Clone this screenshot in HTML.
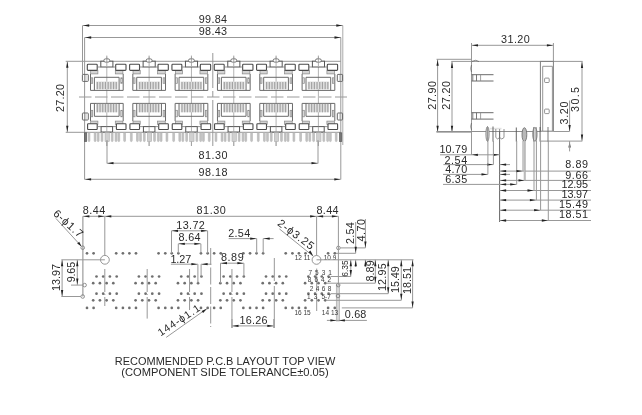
<!DOCTYPE html>
<html><head><meta charset="utf-8"><style>
html,body{margin:0;padding:0;background:#fff;}
svg{display:block;will-change:transform;}
</style></head><body>
<svg width="642" height="415" viewBox="0 0 642 415" shape-rendering="auto">
<rect x="0" y="0" width="642" height="415" fill="#fff"/>
<line x1="82.50" y1="25.50" x2="82.50" y2="74.40" stroke="#989898" stroke-width="1.0" />
<line x1="84.60" y1="37.50" x2="84.60" y2="179.50" stroke="#989898" stroke-width="1.0" />
<line x1="342.80" y1="25.50" x2="342.80" y2="145.00" stroke="#aaa" stroke-width="1.0" />
<line x1="340.80" y1="37.50" x2="340.80" y2="179.50" stroke="#999" stroke-width="1.0" />
<line x1="82.70" y1="25.50" x2="342.80" y2="25.50" stroke="#989898" stroke-width="1.0" />
<line x1="84.70" y1="37.50" x2="341.00" y2="37.50" stroke="#989898" stroke-width="1.0" />
<polygon points="83.20,25.50 89.20,24.35 89.20,26.65" fill="#222"/>
<polygon points="342.30,25.50 336.30,24.35 336.30,26.65" fill="#222"/>
<polygon points="85.20,37.50 91.20,36.35 91.20,38.65" fill="#222"/>
<polygon points="340.50,37.50 334.50,36.35 334.50,38.65" fill="#222"/>
<text x="198.71" y="22.80" font-family="Liberation Sans" font-size="10.80" fill="#2a2a2a" textLength="28.37" lengthAdjust="spacing">99.84</text>
<text x="198.71" y="35.40" font-family="Liberation Sans" font-size="10.80" fill="#2a2a2a" textLength="28.37" lengthAdjust="spacing">98.43</text>
<line x1="65.70" y1="61.30" x2="341.00" y2="61.30" stroke="#989898" stroke-width="1.0" />
<line x1="65.70" y1="132.30" x2="340.80" y2="132.30" stroke="#989898" stroke-width="1.0" />
<line x1="67.30" y1="61.30" x2="67.30" y2="132.30" stroke="#989898" stroke-width="1.0" />
<polygon points="67.30,61.80 66.15,67.80 68.45,67.80" fill="#222"/>
<polygon points="67.30,131.80 66.15,125.80 68.45,125.80" fill="#222"/>
<text transform="translate(64.00,111.99) rotate(-90)" x="0" y="0" font-family="Liberation Sans" font-size="10.80" fill="#2a2a2a" textLength="28.07" lengthAdjust="spacing">27.20</text>
<line x1="79" y1="97" x2="347" y2="97" stroke="#9a9a9a" stroke-width="1" stroke-dasharray="12.5,3.5"/>
<line x1="212.8" y1="53" x2="212.8" y2="146" stroke="#989898" stroke-width="1" stroke-dasharray="35,3,6,3,60"/>
<rect x="82.40" y="74.40" width="5.90" height="7.00" rx="0.7" fill="none" stroke="#666" stroke-width="1.0"/>
<line x1="85.90" y1="74.40" x2="85.90" y2="81.40" stroke="#999" stroke-width="0.7" />
<rect x="337.30" y="74.40" width="5.30" height="7.00" rx="0.7" fill="none" stroke="#666" stroke-width="1.0"/>
<line x1="339.90" y1="74.40" x2="339.90" y2="81.40" stroke="#999" stroke-width="0.7" />
<rect x="82.40" y="113.00" width="5.90" height="7.00" rx="0.7" fill="none" stroke="#666" stroke-width="1.0"/>
<line x1="85.90" y1="113.00" x2="85.90" y2="120.00" stroke="#999" stroke-width="0.7" />
<rect x="337.30" y="113.00" width="5.30" height="7.00" rx="0.7" fill="none" stroke="#666" stroke-width="1.0"/>
<line x1="339.90" y1="113.00" x2="339.90" y2="120.00" stroke="#999" stroke-width="0.7" />
<line x1="106.80" y1="55.50" x2="106.80" y2="98.00" stroke="#a0a0a0" stroke-width="0.8" />
<rect x="90.70" y="70.40" width="7.20" height="3.50" rx="0" fill="#d4d4d4" stroke="#888" stroke-width="0.7"/>
<rect x="115.30" y="70.40" width="7.60" height="3.50" rx="0" fill="#d4d4d4" stroke="#888" stroke-width="0.7"/>
<rect x="100.80" y="61.20" width="12.10" height="5.80" rx="0" fill="#fff" stroke="#555" stroke-width="1.0"/>
<rect x="103.90" y="58.90" width="5.80" height="3.20" rx="1.5" fill="#fff" stroke="#666" stroke-width="0.9"/>
<line x1="106.80" y1="56.50" x2="106.80" y2="66.00" stroke="#999" stroke-width="0.8" />
<rect x="87.30" y="64.30" width="9.90" height="6.10" rx="0.8" fill="#fff" stroke="#4a4a4a" stroke-width="1.1"/>
<rect x="115.70" y="64.30" width="10.30" height="6.10" rx="0.8" fill="#fff" stroke="#4a4a4a" stroke-width="1.1"/>
<line x1="97.20" y1="67.00" x2="100.80" y2="67.00" stroke="#777" stroke-width="0.8" />
<line x1="112.90" y1="67.00" x2="115.70" y2="67.00" stroke="#777" stroke-width="0.8" />
<polyline points="90.50,73.9 90.50,90.4 123.20,90.4 123.20,73.9" fill="none" stroke="#6a6a6a" stroke-width="1"/>
<rect x="96.00" y="81.5" width="21.6" height="7.9" fill="#e0e0e0"/>
<polyline points="94.40,90.4 94.40,77.3 119.10,77.3 119.10,90.4" fill="none" stroke="#6a6a6a" stroke-width="1"/>
<line x1="97.35" y1="81.90" x2="97.35" y2="89.20" stroke="#a2a2a2" stroke-width="1.2" />
<line x1="100.05" y1="81.90" x2="100.05" y2="89.20" stroke="#a2a2a2" stroke-width="1.2" />
<line x1="102.75" y1="81.90" x2="102.75" y2="89.20" stroke="#a2a2a2" stroke-width="1.2" />
<line x1="105.45" y1="81.90" x2="105.45" y2="89.20" stroke="#a2a2a2" stroke-width="1.2" />
<line x1="108.15" y1="81.90" x2="108.15" y2="89.20" stroke="#a2a2a2" stroke-width="1.2" />
<line x1="110.85" y1="81.90" x2="110.85" y2="89.20" stroke="#a2a2a2" stroke-width="1.2" />
<line x1="113.55" y1="81.90" x2="113.55" y2="89.20" stroke="#a2a2a2" stroke-width="1.2" />
<line x1="116.25" y1="81.90" x2="116.25" y2="89.20" stroke="#a2a2a2" stroke-width="1.2" />
<rect x="91.00" y="77.80" width="1.70" height="5.50" rx="0" fill="#ddd" stroke="#888" stroke-width="0.7"/>
<rect x="120.80" y="77.80" width="1.70" height="5.50" rx="0" fill="#ddd" stroke="#888" stroke-width="0.7"/>
<line x1="106.80" y1="98.00" x2="106.80" y2="146.00" stroke="#a0a0a0" stroke-width="0.8" />
<polyline points="90.50,121.1 90.50,103.4 123.20,103.4 123.20,121.1" fill="none" stroke="#6a6a6a" stroke-width="1"/>
<rect x="96.00" y="103.9" width="21.6" height="8.4" fill="#e0e0e0"/>
<polyline points="94.40,103.4 94.40,116.3 119.10,116.3 119.10,103.4" fill="none" stroke="#6a6a6a" stroke-width="1"/>
<line x1="97.35" y1="103.90" x2="97.35" y2="112.30" stroke="#a2a2a2" stroke-width="1.2" />
<line x1="100.05" y1="103.90" x2="100.05" y2="112.30" stroke="#a2a2a2" stroke-width="1.2" />
<line x1="102.75" y1="103.90" x2="102.75" y2="112.30" stroke="#a2a2a2" stroke-width="1.2" />
<line x1="105.45" y1="103.90" x2="105.45" y2="112.30" stroke="#a2a2a2" stroke-width="1.2" />
<line x1="108.15" y1="103.90" x2="108.15" y2="112.30" stroke="#a2a2a2" stroke-width="1.2" />
<line x1="110.85" y1="103.90" x2="110.85" y2="112.30" stroke="#a2a2a2" stroke-width="1.2" />
<line x1="113.55" y1="103.90" x2="113.55" y2="112.30" stroke="#a2a2a2" stroke-width="1.2" />
<line x1="116.25" y1="103.90" x2="116.25" y2="112.30" stroke="#a2a2a2" stroke-width="1.2" />
<rect x="91.00" y="110.30" width="1.70" height="6.50" rx="0" fill="#ddd" stroke="#888" stroke-width="0.7"/>
<rect x="120.80" y="110.30" width="1.70" height="6.50" rx="0" fill="#ddd" stroke="#888" stroke-width="0.7"/>
<rect x="90.70" y="121.10" width="7.20" height="3.20" rx="0" fill="#d4d4d4" stroke="#888" stroke-width="0.7"/>
<rect x="115.30" y="121.10" width="7.60" height="3.20" rx="0" fill="#d4d4d4" stroke="#888" stroke-width="0.7"/>
<rect x="87.60" y="123.80" width="9.60" height="5.70" rx="0.6" fill="#fff" stroke="#4a4a4a" stroke-width="1.1"/>
<rect x="116.40" y="123.80" width="9.60" height="5.70" rx="0.6" fill="#fff" stroke="#4a4a4a" stroke-width="1.1"/>
<line x1="97.20" y1="126.60" x2="101.10" y2="126.60" stroke="#777" stroke-width="0.8" />
<line x1="112.60" y1="126.60" x2="116.40" y2="126.60" stroke="#777" stroke-width="0.8" />
<rect x="101.10" y="126.60" width="11.50" height="5.40" rx="0" fill="#fff" stroke="#555" stroke-width="1.0"/>
<line x1="106.80" y1="126.60" x2="106.80" y2="146.00" stroke="#a0a0a0" stroke-width="0.8" />
<rect x="88.10" y="132.6" width="1.8" height="9.0" rx="0.8" fill="#c4c4c4" stroke="#a8a8a8" stroke-width="0.5"/>
<rect x="94.20" y="132.6" width="1.8" height="9.0" rx="0.8" fill="#c4c4c4" stroke="#a8a8a8" stroke-width="0.5"/>
<rect x="97.30" y="132.6" width="1.8" height="9.0" rx="0.8" fill="#c4c4c4" stroke="#a8a8a8" stroke-width="0.5"/>
<rect x="101.10" y="132.6" width="1.8" height="9.0" rx="0.8" fill="#c4c4c4" stroke="#a8a8a8" stroke-width="0.5"/>
<rect x="111.30" y="132.6" width="1.8" height="9.0" rx="0.8" fill="#c4c4c4" stroke="#a8a8a8" stroke-width="0.5"/>
<rect x="115.10" y="132.6" width="1.8" height="9.0" rx="0.8" fill="#c4c4c4" stroke="#a8a8a8" stroke-width="0.5"/>
<rect x="117.90" y="132.6" width="1.8" height="9.0" rx="0.8" fill="#c4c4c4" stroke="#a8a8a8" stroke-width="0.5"/>
<rect x="123.70" y="132.6" width="1.8" height="9.0" rx="0.8" fill="#c4c4c4" stroke="#a8a8a8" stroke-width="0.5"/>
<rect x="105.00" y="132.6" width="4.4" height="9.0" fill="#d0d0d0" stroke="#a8a8a8" stroke-width="0.5"/>
<line x1="149.12" y1="55.50" x2="149.12" y2="98.00" stroke="#a0a0a0" stroke-width="0.8" />
<rect x="133.02" y="70.40" width="7.20" height="3.50" rx="0" fill="#d4d4d4" stroke="#888" stroke-width="0.7"/>
<rect x="157.62" y="70.40" width="7.60" height="3.50" rx="0" fill="#d4d4d4" stroke="#888" stroke-width="0.7"/>
<rect x="143.12" y="61.20" width="12.10" height="5.80" rx="0" fill="#fff" stroke="#555" stroke-width="1.0"/>
<rect x="146.22" y="58.90" width="5.80" height="3.20" rx="1.5" fill="#fff" stroke="#666" stroke-width="0.9"/>
<line x1="149.12" y1="56.50" x2="149.12" y2="66.00" stroke="#999" stroke-width="0.8" />
<rect x="129.62" y="64.30" width="9.90" height="6.10" rx="0.8" fill="#fff" stroke="#4a4a4a" stroke-width="1.1"/>
<rect x="158.02" y="64.30" width="10.30" height="6.10" rx="0.8" fill="#fff" stroke="#4a4a4a" stroke-width="1.1"/>
<line x1="139.52" y1="67.00" x2="143.12" y2="67.00" stroke="#777" stroke-width="0.8" />
<line x1="155.22" y1="67.00" x2="158.02" y2="67.00" stroke="#777" stroke-width="0.8" />
<polyline points="132.82,73.9 132.82,90.4 165.52,90.4 165.52,73.9" fill="none" stroke="#6a6a6a" stroke-width="1"/>
<rect x="138.32" y="81.5" width="21.6" height="7.9" fill="#e0e0e0"/>
<polyline points="136.72,90.4 136.72,77.3 161.42,77.3 161.42,90.4" fill="none" stroke="#6a6a6a" stroke-width="1"/>
<line x1="139.67" y1="81.90" x2="139.67" y2="89.20" stroke="#a2a2a2" stroke-width="1.2" />
<line x1="142.37" y1="81.90" x2="142.37" y2="89.20" stroke="#a2a2a2" stroke-width="1.2" />
<line x1="145.07" y1="81.90" x2="145.07" y2="89.20" stroke="#a2a2a2" stroke-width="1.2" />
<line x1="147.77" y1="81.90" x2="147.77" y2="89.20" stroke="#a2a2a2" stroke-width="1.2" />
<line x1="150.47" y1="81.90" x2="150.47" y2="89.20" stroke="#a2a2a2" stroke-width="1.2" />
<line x1="153.17" y1="81.90" x2="153.17" y2="89.20" stroke="#a2a2a2" stroke-width="1.2" />
<line x1="155.87" y1="81.90" x2="155.87" y2="89.20" stroke="#a2a2a2" stroke-width="1.2" />
<line x1="158.57" y1="81.90" x2="158.57" y2="89.20" stroke="#a2a2a2" stroke-width="1.2" />
<rect x="133.32" y="77.80" width="1.70" height="5.50" rx="0" fill="#ddd" stroke="#888" stroke-width="0.7"/>
<rect x="163.12" y="77.80" width="1.70" height="5.50" rx="0" fill="#ddd" stroke="#888" stroke-width="0.7"/>
<line x1="149.12" y1="98.00" x2="149.12" y2="146.00" stroke="#a0a0a0" stroke-width="0.8" />
<polyline points="132.82,121.1 132.82,103.4 165.52,103.4 165.52,121.1" fill="none" stroke="#6a6a6a" stroke-width="1"/>
<rect x="138.32" y="103.9" width="21.6" height="8.4" fill="#e0e0e0"/>
<polyline points="136.72,103.4 136.72,116.3 161.42,116.3 161.42,103.4" fill="none" stroke="#6a6a6a" stroke-width="1"/>
<line x1="139.67" y1="103.90" x2="139.67" y2="112.30" stroke="#a2a2a2" stroke-width="1.2" />
<line x1="142.37" y1="103.90" x2="142.37" y2="112.30" stroke="#a2a2a2" stroke-width="1.2" />
<line x1="145.07" y1="103.90" x2="145.07" y2="112.30" stroke="#a2a2a2" stroke-width="1.2" />
<line x1="147.77" y1="103.90" x2="147.77" y2="112.30" stroke="#a2a2a2" stroke-width="1.2" />
<line x1="150.47" y1="103.90" x2="150.47" y2="112.30" stroke="#a2a2a2" stroke-width="1.2" />
<line x1="153.17" y1="103.90" x2="153.17" y2="112.30" stroke="#a2a2a2" stroke-width="1.2" />
<line x1="155.87" y1="103.90" x2="155.87" y2="112.30" stroke="#a2a2a2" stroke-width="1.2" />
<line x1="158.57" y1="103.90" x2="158.57" y2="112.30" stroke="#a2a2a2" stroke-width="1.2" />
<rect x="133.32" y="110.30" width="1.70" height="6.50" rx="0" fill="#ddd" stroke="#888" stroke-width="0.7"/>
<rect x="163.12" y="110.30" width="1.70" height="6.50" rx="0" fill="#ddd" stroke="#888" stroke-width="0.7"/>
<rect x="133.02" y="121.10" width="7.20" height="3.20" rx="0" fill="#d4d4d4" stroke="#888" stroke-width="0.7"/>
<rect x="157.62" y="121.10" width="7.60" height="3.20" rx="0" fill="#d4d4d4" stroke="#888" stroke-width="0.7"/>
<rect x="129.92" y="123.80" width="9.60" height="5.70" rx="0.6" fill="#fff" stroke="#4a4a4a" stroke-width="1.1"/>
<rect x="158.72" y="123.80" width="9.60" height="5.70" rx="0.6" fill="#fff" stroke="#4a4a4a" stroke-width="1.1"/>
<line x1="139.52" y1="126.60" x2="143.42" y2="126.60" stroke="#777" stroke-width="0.8" />
<line x1="154.92" y1="126.60" x2="158.72" y2="126.60" stroke="#777" stroke-width="0.8" />
<rect x="143.42" y="126.60" width="11.50" height="5.40" rx="0" fill="#fff" stroke="#555" stroke-width="1.0"/>
<line x1="149.12" y1="126.60" x2="149.12" y2="146.00" stroke="#a0a0a0" stroke-width="0.8" />
<rect x="130.42" y="132.6" width="1.8" height="9.0" rx="0.8" fill="#c4c4c4" stroke="#a8a8a8" stroke-width="0.5"/>
<rect x="136.52" y="132.6" width="1.8" height="9.0" rx="0.8" fill="#c4c4c4" stroke="#a8a8a8" stroke-width="0.5"/>
<rect x="139.62" y="132.6" width="1.8" height="9.0" rx="0.8" fill="#c4c4c4" stroke="#a8a8a8" stroke-width="0.5"/>
<rect x="143.42" y="132.6" width="1.8" height="9.0" rx="0.8" fill="#c4c4c4" stroke="#a8a8a8" stroke-width="0.5"/>
<rect x="153.62" y="132.6" width="1.8" height="9.0" rx="0.8" fill="#c4c4c4" stroke="#a8a8a8" stroke-width="0.5"/>
<rect x="157.42" y="132.6" width="1.8" height="9.0" rx="0.8" fill="#c4c4c4" stroke="#a8a8a8" stroke-width="0.5"/>
<rect x="160.22" y="132.6" width="1.8" height="9.0" rx="0.8" fill="#c4c4c4" stroke="#a8a8a8" stroke-width="0.5"/>
<rect x="166.02" y="132.6" width="1.8" height="9.0" rx="0.8" fill="#c4c4c4" stroke="#a8a8a8" stroke-width="0.5"/>
<rect x="147.32" y="132.6" width="4.4" height="9.0" fill="#d0d0d0" stroke="#a8a8a8" stroke-width="0.5"/>
<line x1="191.44" y1="55.50" x2="191.44" y2="98.00" stroke="#a0a0a0" stroke-width="0.8" />
<rect x="175.34" y="70.40" width="7.20" height="3.50" rx="0" fill="#d4d4d4" stroke="#888" stroke-width="0.7"/>
<rect x="199.94" y="70.40" width="7.60" height="3.50" rx="0" fill="#d4d4d4" stroke="#888" stroke-width="0.7"/>
<rect x="185.44" y="61.20" width="12.10" height="5.80" rx="0" fill="#fff" stroke="#555" stroke-width="1.0"/>
<rect x="188.54" y="58.90" width="5.80" height="3.20" rx="1.5" fill="#fff" stroke="#666" stroke-width="0.9"/>
<line x1="191.44" y1="56.50" x2="191.44" y2="66.00" stroke="#999" stroke-width="0.8" />
<rect x="171.94" y="64.30" width="9.90" height="6.10" rx="0.8" fill="#fff" stroke="#4a4a4a" stroke-width="1.1"/>
<rect x="200.34" y="64.30" width="10.30" height="6.10" rx="0.8" fill="#fff" stroke="#4a4a4a" stroke-width="1.1"/>
<line x1="181.84" y1="67.00" x2="185.44" y2="67.00" stroke="#777" stroke-width="0.8" />
<line x1="197.54" y1="67.00" x2="200.34" y2="67.00" stroke="#777" stroke-width="0.8" />
<polyline points="175.14,73.9 175.14,90.4 207.84,90.4 207.84,73.9" fill="none" stroke="#6a6a6a" stroke-width="1"/>
<rect x="180.64" y="81.5" width="21.6" height="7.9" fill="#e0e0e0"/>
<polyline points="179.04,90.4 179.04,77.3 203.74,77.3 203.74,90.4" fill="none" stroke="#6a6a6a" stroke-width="1"/>
<line x1="181.99" y1="81.90" x2="181.99" y2="89.20" stroke="#a2a2a2" stroke-width="1.2" />
<line x1="184.69" y1="81.90" x2="184.69" y2="89.20" stroke="#a2a2a2" stroke-width="1.2" />
<line x1="187.39" y1="81.90" x2="187.39" y2="89.20" stroke="#a2a2a2" stroke-width="1.2" />
<line x1="190.09" y1="81.90" x2="190.09" y2="89.20" stroke="#a2a2a2" stroke-width="1.2" />
<line x1="192.79" y1="81.90" x2="192.79" y2="89.20" stroke="#a2a2a2" stroke-width="1.2" />
<line x1="195.49" y1="81.90" x2="195.49" y2="89.20" stroke="#a2a2a2" stroke-width="1.2" />
<line x1="198.19" y1="81.90" x2="198.19" y2="89.20" stroke="#a2a2a2" stroke-width="1.2" />
<line x1="200.89" y1="81.90" x2="200.89" y2="89.20" stroke="#a2a2a2" stroke-width="1.2" />
<rect x="175.64" y="77.80" width="1.70" height="5.50" rx="0" fill="#ddd" stroke="#888" stroke-width="0.7"/>
<rect x="205.44" y="77.80" width="1.70" height="5.50" rx="0" fill="#ddd" stroke="#888" stroke-width="0.7"/>
<line x1="191.44" y1="98.00" x2="191.44" y2="146.00" stroke="#a0a0a0" stroke-width="0.8" />
<polyline points="175.14,121.1 175.14,103.4 207.84,103.4 207.84,121.1" fill="none" stroke="#6a6a6a" stroke-width="1"/>
<rect x="180.64" y="103.9" width="21.6" height="8.4" fill="#e0e0e0"/>
<polyline points="179.04,103.4 179.04,116.3 203.74,116.3 203.74,103.4" fill="none" stroke="#6a6a6a" stroke-width="1"/>
<line x1="181.99" y1="103.90" x2="181.99" y2="112.30" stroke="#a2a2a2" stroke-width="1.2" />
<line x1="184.69" y1="103.90" x2="184.69" y2="112.30" stroke="#a2a2a2" stroke-width="1.2" />
<line x1="187.39" y1="103.90" x2="187.39" y2="112.30" stroke="#a2a2a2" stroke-width="1.2" />
<line x1="190.09" y1="103.90" x2="190.09" y2="112.30" stroke="#a2a2a2" stroke-width="1.2" />
<line x1="192.79" y1="103.90" x2="192.79" y2="112.30" stroke="#a2a2a2" stroke-width="1.2" />
<line x1="195.49" y1="103.90" x2="195.49" y2="112.30" stroke="#a2a2a2" stroke-width="1.2" />
<line x1="198.19" y1="103.90" x2="198.19" y2="112.30" stroke="#a2a2a2" stroke-width="1.2" />
<line x1="200.89" y1="103.90" x2="200.89" y2="112.30" stroke="#a2a2a2" stroke-width="1.2" />
<rect x="175.64" y="110.30" width="1.70" height="6.50" rx="0" fill="#ddd" stroke="#888" stroke-width="0.7"/>
<rect x="205.44" y="110.30" width="1.70" height="6.50" rx="0" fill="#ddd" stroke="#888" stroke-width="0.7"/>
<rect x="175.34" y="121.10" width="7.20" height="3.20" rx="0" fill="#d4d4d4" stroke="#888" stroke-width="0.7"/>
<rect x="199.94" y="121.10" width="7.60" height="3.20" rx="0" fill="#d4d4d4" stroke="#888" stroke-width="0.7"/>
<rect x="172.24" y="123.80" width="9.60" height="5.70" rx="0.6" fill="#fff" stroke="#4a4a4a" stroke-width="1.1"/>
<rect x="201.04" y="123.80" width="9.60" height="5.70" rx="0.6" fill="#fff" stroke="#4a4a4a" stroke-width="1.1"/>
<line x1="181.84" y1="126.60" x2="185.74" y2="126.60" stroke="#777" stroke-width="0.8" />
<line x1="197.24" y1="126.60" x2="201.04" y2="126.60" stroke="#777" stroke-width="0.8" />
<rect x="185.74" y="126.60" width="11.50" height="5.40" rx="0" fill="#fff" stroke="#555" stroke-width="1.0"/>
<line x1="191.44" y1="126.60" x2="191.44" y2="146.00" stroke="#a0a0a0" stroke-width="0.8" />
<rect x="172.74" y="132.6" width="1.8" height="9.0" rx="0.8" fill="#c4c4c4" stroke="#a8a8a8" stroke-width="0.5"/>
<rect x="178.84" y="132.6" width="1.8" height="9.0" rx="0.8" fill="#c4c4c4" stroke="#a8a8a8" stroke-width="0.5"/>
<rect x="181.94" y="132.6" width="1.8" height="9.0" rx="0.8" fill="#c4c4c4" stroke="#a8a8a8" stroke-width="0.5"/>
<rect x="185.74" y="132.6" width="1.8" height="9.0" rx="0.8" fill="#c4c4c4" stroke="#a8a8a8" stroke-width="0.5"/>
<rect x="195.94" y="132.6" width="1.8" height="9.0" rx="0.8" fill="#c4c4c4" stroke="#a8a8a8" stroke-width="0.5"/>
<rect x="199.74" y="132.6" width="1.8" height="9.0" rx="0.8" fill="#c4c4c4" stroke="#a8a8a8" stroke-width="0.5"/>
<rect x="202.54" y="132.6" width="1.8" height="9.0" rx="0.8" fill="#c4c4c4" stroke="#a8a8a8" stroke-width="0.5"/>
<rect x="208.34" y="132.6" width="1.8" height="9.0" rx="0.8" fill="#c4c4c4" stroke="#a8a8a8" stroke-width="0.5"/>
<rect x="189.64" y="132.6" width="4.4" height="9.0" fill="#d0d0d0" stroke="#a8a8a8" stroke-width="0.5"/>
<line x1="233.76" y1="55.50" x2="233.76" y2="98.00" stroke="#a0a0a0" stroke-width="0.8" />
<rect x="217.66" y="70.40" width="7.20" height="3.50" rx="0" fill="#d4d4d4" stroke="#888" stroke-width="0.7"/>
<rect x="242.26" y="70.40" width="7.60" height="3.50" rx="0" fill="#d4d4d4" stroke="#888" stroke-width="0.7"/>
<rect x="227.76" y="61.20" width="12.10" height="5.80" rx="0" fill="#fff" stroke="#555" stroke-width="1.0"/>
<rect x="230.86" y="58.90" width="5.80" height="3.20" rx="1.5" fill="#fff" stroke="#666" stroke-width="0.9"/>
<line x1="233.76" y1="56.50" x2="233.76" y2="66.00" stroke="#999" stroke-width="0.8" />
<rect x="214.26" y="64.30" width="9.90" height="6.10" rx="0.8" fill="#fff" stroke="#4a4a4a" stroke-width="1.1"/>
<rect x="242.66" y="64.30" width="10.30" height="6.10" rx="0.8" fill="#fff" stroke="#4a4a4a" stroke-width="1.1"/>
<line x1="224.16" y1="67.00" x2="227.76" y2="67.00" stroke="#777" stroke-width="0.8" />
<line x1="239.86" y1="67.00" x2="242.66" y2="67.00" stroke="#777" stroke-width="0.8" />
<polyline points="217.46,73.9 217.46,90.4 250.16,90.4 250.16,73.9" fill="none" stroke="#6a6a6a" stroke-width="1"/>
<rect x="222.96" y="81.5" width="21.6" height="7.9" fill="#e0e0e0"/>
<polyline points="221.36,90.4 221.36,77.3 246.06,77.3 246.06,90.4" fill="none" stroke="#6a6a6a" stroke-width="1"/>
<line x1="224.31" y1="81.90" x2="224.31" y2="89.20" stroke="#a2a2a2" stroke-width="1.2" />
<line x1="227.01" y1="81.90" x2="227.01" y2="89.20" stroke="#a2a2a2" stroke-width="1.2" />
<line x1="229.71" y1="81.90" x2="229.71" y2="89.20" stroke="#a2a2a2" stroke-width="1.2" />
<line x1="232.41" y1="81.90" x2="232.41" y2="89.20" stroke="#a2a2a2" stroke-width="1.2" />
<line x1="235.11" y1="81.90" x2="235.11" y2="89.20" stroke="#a2a2a2" stroke-width="1.2" />
<line x1="237.81" y1="81.90" x2="237.81" y2="89.20" stroke="#a2a2a2" stroke-width="1.2" />
<line x1="240.51" y1="81.90" x2="240.51" y2="89.20" stroke="#a2a2a2" stroke-width="1.2" />
<line x1="243.21" y1="81.90" x2="243.21" y2="89.20" stroke="#a2a2a2" stroke-width="1.2" />
<rect x="217.96" y="77.80" width="1.70" height="5.50" rx="0" fill="#ddd" stroke="#888" stroke-width="0.7"/>
<rect x="247.76" y="77.80" width="1.70" height="5.50" rx="0" fill="#ddd" stroke="#888" stroke-width="0.7"/>
<line x1="233.76" y1="98.00" x2="233.76" y2="146.00" stroke="#a0a0a0" stroke-width="0.8" />
<polyline points="217.46,121.1 217.46,103.4 250.16,103.4 250.16,121.1" fill="none" stroke="#6a6a6a" stroke-width="1"/>
<rect x="222.96" y="103.9" width="21.6" height="8.4" fill="#e0e0e0"/>
<polyline points="221.36,103.4 221.36,116.3 246.06,116.3 246.06,103.4" fill="none" stroke="#6a6a6a" stroke-width="1"/>
<line x1="224.31" y1="103.90" x2="224.31" y2="112.30" stroke="#a2a2a2" stroke-width="1.2" />
<line x1="227.01" y1="103.90" x2="227.01" y2="112.30" stroke="#a2a2a2" stroke-width="1.2" />
<line x1="229.71" y1="103.90" x2="229.71" y2="112.30" stroke="#a2a2a2" stroke-width="1.2" />
<line x1="232.41" y1="103.90" x2="232.41" y2="112.30" stroke="#a2a2a2" stroke-width="1.2" />
<line x1="235.11" y1="103.90" x2="235.11" y2="112.30" stroke="#a2a2a2" stroke-width="1.2" />
<line x1="237.81" y1="103.90" x2="237.81" y2="112.30" stroke="#a2a2a2" stroke-width="1.2" />
<line x1="240.51" y1="103.90" x2="240.51" y2="112.30" stroke="#a2a2a2" stroke-width="1.2" />
<line x1="243.21" y1="103.90" x2="243.21" y2="112.30" stroke="#a2a2a2" stroke-width="1.2" />
<rect x="217.96" y="110.30" width="1.70" height="6.50" rx="0" fill="#ddd" stroke="#888" stroke-width="0.7"/>
<rect x="247.76" y="110.30" width="1.70" height="6.50" rx="0" fill="#ddd" stroke="#888" stroke-width="0.7"/>
<rect x="217.66" y="121.10" width="7.20" height="3.20" rx="0" fill="#d4d4d4" stroke="#888" stroke-width="0.7"/>
<rect x="242.26" y="121.10" width="7.60" height="3.20" rx="0" fill="#d4d4d4" stroke="#888" stroke-width="0.7"/>
<rect x="214.56" y="123.80" width="9.60" height="5.70" rx="0.6" fill="#fff" stroke="#4a4a4a" stroke-width="1.1"/>
<rect x="243.36" y="123.80" width="9.60" height="5.70" rx="0.6" fill="#fff" stroke="#4a4a4a" stroke-width="1.1"/>
<line x1="224.16" y1="126.60" x2="228.06" y2="126.60" stroke="#777" stroke-width="0.8" />
<line x1="239.56" y1="126.60" x2="243.36" y2="126.60" stroke="#777" stroke-width="0.8" />
<rect x="228.06" y="126.60" width="11.50" height="5.40" rx="0" fill="#fff" stroke="#555" stroke-width="1.0"/>
<line x1="233.76" y1="126.60" x2="233.76" y2="146.00" stroke="#a0a0a0" stroke-width="0.8" />
<rect x="215.06" y="132.6" width="1.8" height="9.0" rx="0.8" fill="#c4c4c4" stroke="#a8a8a8" stroke-width="0.5"/>
<rect x="221.16" y="132.6" width="1.8" height="9.0" rx="0.8" fill="#c4c4c4" stroke="#a8a8a8" stroke-width="0.5"/>
<rect x="224.26" y="132.6" width="1.8" height="9.0" rx="0.8" fill="#c4c4c4" stroke="#a8a8a8" stroke-width="0.5"/>
<rect x="228.06" y="132.6" width="1.8" height="9.0" rx="0.8" fill="#c4c4c4" stroke="#a8a8a8" stroke-width="0.5"/>
<rect x="238.26" y="132.6" width="1.8" height="9.0" rx="0.8" fill="#c4c4c4" stroke="#a8a8a8" stroke-width="0.5"/>
<rect x="242.06" y="132.6" width="1.8" height="9.0" rx="0.8" fill="#c4c4c4" stroke="#a8a8a8" stroke-width="0.5"/>
<rect x="244.86" y="132.6" width="1.8" height="9.0" rx="0.8" fill="#c4c4c4" stroke="#a8a8a8" stroke-width="0.5"/>
<rect x="250.66" y="132.6" width="1.8" height="9.0" rx="0.8" fill="#c4c4c4" stroke="#a8a8a8" stroke-width="0.5"/>
<rect x="231.96" y="132.6" width="4.4" height="9.0" fill="#d0d0d0" stroke="#a8a8a8" stroke-width="0.5"/>
<line x1="276.08" y1="55.50" x2="276.08" y2="98.00" stroke="#a0a0a0" stroke-width="0.8" />
<rect x="259.98" y="70.40" width="7.20" height="3.50" rx="0" fill="#d4d4d4" stroke="#888" stroke-width="0.7"/>
<rect x="284.58" y="70.40" width="7.60" height="3.50" rx="0" fill="#d4d4d4" stroke="#888" stroke-width="0.7"/>
<rect x="270.08" y="61.20" width="12.10" height="5.80" rx="0" fill="#fff" stroke="#555" stroke-width="1.0"/>
<rect x="273.18" y="58.90" width="5.80" height="3.20" rx="1.5" fill="#fff" stroke="#666" stroke-width="0.9"/>
<line x1="276.08" y1="56.50" x2="276.08" y2="66.00" stroke="#999" stroke-width="0.8" />
<rect x="256.58" y="64.30" width="9.90" height="6.10" rx="0.8" fill="#fff" stroke="#4a4a4a" stroke-width="1.1"/>
<rect x="284.98" y="64.30" width="10.30" height="6.10" rx="0.8" fill="#fff" stroke="#4a4a4a" stroke-width="1.1"/>
<line x1="266.48" y1="67.00" x2="270.08" y2="67.00" stroke="#777" stroke-width="0.8" />
<line x1="282.18" y1="67.00" x2="284.98" y2="67.00" stroke="#777" stroke-width="0.8" />
<polyline points="259.78,73.9 259.78,90.4 292.48,90.4 292.48,73.9" fill="none" stroke="#6a6a6a" stroke-width="1"/>
<rect x="265.28" y="81.5" width="21.6" height="7.9" fill="#e0e0e0"/>
<polyline points="263.68,90.4 263.68,77.3 288.38,77.3 288.38,90.4" fill="none" stroke="#6a6a6a" stroke-width="1"/>
<line x1="266.63" y1="81.90" x2="266.63" y2="89.20" stroke="#a2a2a2" stroke-width="1.2" />
<line x1="269.33" y1="81.90" x2="269.33" y2="89.20" stroke="#a2a2a2" stroke-width="1.2" />
<line x1="272.03" y1="81.90" x2="272.03" y2="89.20" stroke="#a2a2a2" stroke-width="1.2" />
<line x1="274.73" y1="81.90" x2="274.73" y2="89.20" stroke="#a2a2a2" stroke-width="1.2" />
<line x1="277.43" y1="81.90" x2="277.43" y2="89.20" stroke="#a2a2a2" stroke-width="1.2" />
<line x1="280.13" y1="81.90" x2="280.13" y2="89.20" stroke="#a2a2a2" stroke-width="1.2" />
<line x1="282.83" y1="81.90" x2="282.83" y2="89.20" stroke="#a2a2a2" stroke-width="1.2" />
<line x1="285.53" y1="81.90" x2="285.53" y2="89.20" stroke="#a2a2a2" stroke-width="1.2" />
<rect x="260.28" y="77.80" width="1.70" height="5.50" rx="0" fill="#ddd" stroke="#888" stroke-width="0.7"/>
<rect x="290.08" y="77.80" width="1.70" height="5.50" rx="0" fill="#ddd" stroke="#888" stroke-width="0.7"/>
<line x1="276.08" y1="98.00" x2="276.08" y2="146.00" stroke="#a0a0a0" stroke-width="0.8" />
<polyline points="259.78,121.1 259.78,103.4 292.48,103.4 292.48,121.1" fill="none" stroke="#6a6a6a" stroke-width="1"/>
<rect x="265.28" y="103.9" width="21.6" height="8.4" fill="#e0e0e0"/>
<polyline points="263.68,103.4 263.68,116.3 288.38,116.3 288.38,103.4" fill="none" stroke="#6a6a6a" stroke-width="1"/>
<line x1="266.63" y1="103.90" x2="266.63" y2="112.30" stroke="#a2a2a2" stroke-width="1.2" />
<line x1="269.33" y1="103.90" x2="269.33" y2="112.30" stroke="#a2a2a2" stroke-width="1.2" />
<line x1="272.03" y1="103.90" x2="272.03" y2="112.30" stroke="#a2a2a2" stroke-width="1.2" />
<line x1="274.73" y1="103.90" x2="274.73" y2="112.30" stroke="#a2a2a2" stroke-width="1.2" />
<line x1="277.43" y1="103.90" x2="277.43" y2="112.30" stroke="#a2a2a2" stroke-width="1.2" />
<line x1="280.13" y1="103.90" x2="280.13" y2="112.30" stroke="#a2a2a2" stroke-width="1.2" />
<line x1="282.83" y1="103.90" x2="282.83" y2="112.30" stroke="#a2a2a2" stroke-width="1.2" />
<line x1="285.53" y1="103.90" x2="285.53" y2="112.30" stroke="#a2a2a2" stroke-width="1.2" />
<rect x="260.28" y="110.30" width="1.70" height="6.50" rx="0" fill="#ddd" stroke="#888" stroke-width="0.7"/>
<rect x="290.08" y="110.30" width="1.70" height="6.50" rx="0" fill="#ddd" stroke="#888" stroke-width="0.7"/>
<rect x="259.98" y="121.10" width="7.20" height="3.20" rx="0" fill="#d4d4d4" stroke="#888" stroke-width="0.7"/>
<rect x="284.58" y="121.10" width="7.60" height="3.20" rx="0" fill="#d4d4d4" stroke="#888" stroke-width="0.7"/>
<rect x="256.88" y="123.80" width="9.60" height="5.70" rx="0.6" fill="#fff" stroke="#4a4a4a" stroke-width="1.1"/>
<rect x="285.68" y="123.80" width="9.60" height="5.70" rx="0.6" fill="#fff" stroke="#4a4a4a" stroke-width="1.1"/>
<line x1="266.48" y1="126.60" x2="270.38" y2="126.60" stroke="#777" stroke-width="0.8" />
<line x1="281.88" y1="126.60" x2="285.68" y2="126.60" stroke="#777" stroke-width="0.8" />
<rect x="270.38" y="126.60" width="11.50" height="5.40" rx="0" fill="#fff" stroke="#555" stroke-width="1.0"/>
<line x1="276.08" y1="126.60" x2="276.08" y2="146.00" stroke="#a0a0a0" stroke-width="0.8" />
<rect x="257.38" y="132.6" width="1.8" height="9.0" rx="0.8" fill="#c4c4c4" stroke="#a8a8a8" stroke-width="0.5"/>
<rect x="263.48" y="132.6" width="1.8" height="9.0" rx="0.8" fill="#c4c4c4" stroke="#a8a8a8" stroke-width="0.5"/>
<rect x="266.58" y="132.6" width="1.8" height="9.0" rx="0.8" fill="#c4c4c4" stroke="#a8a8a8" stroke-width="0.5"/>
<rect x="270.38" y="132.6" width="1.8" height="9.0" rx="0.8" fill="#c4c4c4" stroke="#a8a8a8" stroke-width="0.5"/>
<rect x="280.58" y="132.6" width="1.8" height="9.0" rx="0.8" fill="#c4c4c4" stroke="#a8a8a8" stroke-width="0.5"/>
<rect x="284.38" y="132.6" width="1.8" height="9.0" rx="0.8" fill="#c4c4c4" stroke="#a8a8a8" stroke-width="0.5"/>
<rect x="287.18" y="132.6" width="1.8" height="9.0" rx="0.8" fill="#c4c4c4" stroke="#a8a8a8" stroke-width="0.5"/>
<rect x="292.98" y="132.6" width="1.8" height="9.0" rx="0.8" fill="#c4c4c4" stroke="#a8a8a8" stroke-width="0.5"/>
<rect x="274.28" y="132.6" width="4.4" height="9.0" fill="#d0d0d0" stroke="#a8a8a8" stroke-width="0.5"/>
<line x1="318.40" y1="55.50" x2="318.40" y2="98.00" stroke="#a0a0a0" stroke-width="0.8" />
<rect x="302.30" y="70.40" width="7.20" height="3.50" rx="0" fill="#d4d4d4" stroke="#888" stroke-width="0.7"/>
<rect x="326.90" y="70.40" width="7.60" height="3.50" rx="0" fill="#d4d4d4" stroke="#888" stroke-width="0.7"/>
<rect x="312.40" y="61.20" width="12.10" height="5.80" rx="0" fill="#fff" stroke="#555" stroke-width="1.0"/>
<rect x="315.50" y="58.90" width="5.80" height="3.20" rx="1.5" fill="#fff" stroke="#666" stroke-width="0.9"/>
<line x1="318.40" y1="56.50" x2="318.40" y2="66.00" stroke="#999" stroke-width="0.8" />
<rect x="298.90" y="64.30" width="9.90" height="6.10" rx="0.8" fill="#fff" stroke="#4a4a4a" stroke-width="1.1"/>
<rect x="327.30" y="64.30" width="10.30" height="6.10" rx="0.8" fill="#fff" stroke="#4a4a4a" stroke-width="1.1"/>
<line x1="308.80" y1="67.00" x2="312.40" y2="67.00" stroke="#777" stroke-width="0.8" />
<line x1="324.50" y1="67.00" x2="327.30" y2="67.00" stroke="#777" stroke-width="0.8" />
<polyline points="302.10,73.9 302.10,90.4 334.80,90.4 334.80,73.9" fill="none" stroke="#6a6a6a" stroke-width="1"/>
<rect x="307.60" y="81.5" width="21.6" height="7.9" fill="#e0e0e0"/>
<polyline points="306.00,90.4 306.00,77.3 330.70,77.3 330.70,90.4" fill="none" stroke="#6a6a6a" stroke-width="1"/>
<line x1="308.95" y1="81.90" x2="308.95" y2="89.20" stroke="#a2a2a2" stroke-width="1.2" />
<line x1="311.65" y1="81.90" x2="311.65" y2="89.20" stroke="#a2a2a2" stroke-width="1.2" />
<line x1="314.35" y1="81.90" x2="314.35" y2="89.20" stroke="#a2a2a2" stroke-width="1.2" />
<line x1="317.05" y1="81.90" x2="317.05" y2="89.20" stroke="#a2a2a2" stroke-width="1.2" />
<line x1="319.75" y1="81.90" x2="319.75" y2="89.20" stroke="#a2a2a2" stroke-width="1.2" />
<line x1="322.45" y1="81.90" x2="322.45" y2="89.20" stroke="#a2a2a2" stroke-width="1.2" />
<line x1="325.15" y1="81.90" x2="325.15" y2="89.20" stroke="#a2a2a2" stroke-width="1.2" />
<line x1="327.85" y1="81.90" x2="327.85" y2="89.20" stroke="#a2a2a2" stroke-width="1.2" />
<rect x="302.60" y="77.80" width="1.70" height="5.50" rx="0" fill="#ddd" stroke="#888" stroke-width="0.7"/>
<rect x="332.40" y="77.80" width="1.70" height="5.50" rx="0" fill="#ddd" stroke="#888" stroke-width="0.7"/>
<line x1="318.40" y1="98.00" x2="318.40" y2="146.00" stroke="#a0a0a0" stroke-width="0.8" />
<polyline points="302.10,121.1 302.10,103.4 334.80,103.4 334.80,121.1" fill="none" stroke="#6a6a6a" stroke-width="1"/>
<rect x="307.60" y="103.9" width="21.6" height="8.4" fill="#e0e0e0"/>
<polyline points="306.00,103.4 306.00,116.3 330.70,116.3 330.70,103.4" fill="none" stroke="#6a6a6a" stroke-width="1"/>
<line x1="308.95" y1="103.90" x2="308.95" y2="112.30" stroke="#a2a2a2" stroke-width="1.2" />
<line x1="311.65" y1="103.90" x2="311.65" y2="112.30" stroke="#a2a2a2" stroke-width="1.2" />
<line x1="314.35" y1="103.90" x2="314.35" y2="112.30" stroke="#a2a2a2" stroke-width="1.2" />
<line x1="317.05" y1="103.90" x2="317.05" y2="112.30" stroke="#a2a2a2" stroke-width="1.2" />
<line x1="319.75" y1="103.90" x2="319.75" y2="112.30" stroke="#a2a2a2" stroke-width="1.2" />
<line x1="322.45" y1="103.90" x2="322.45" y2="112.30" stroke="#a2a2a2" stroke-width="1.2" />
<line x1="325.15" y1="103.90" x2="325.15" y2="112.30" stroke="#a2a2a2" stroke-width="1.2" />
<line x1="327.85" y1="103.90" x2="327.85" y2="112.30" stroke="#a2a2a2" stroke-width="1.2" />
<rect x="302.60" y="110.30" width="1.70" height="6.50" rx="0" fill="#ddd" stroke="#888" stroke-width="0.7"/>
<rect x="332.40" y="110.30" width="1.70" height="6.50" rx="0" fill="#ddd" stroke="#888" stroke-width="0.7"/>
<rect x="302.30" y="121.10" width="7.20" height="3.20" rx="0" fill="#d4d4d4" stroke="#888" stroke-width="0.7"/>
<rect x="326.90" y="121.10" width="7.60" height="3.20" rx="0" fill="#d4d4d4" stroke="#888" stroke-width="0.7"/>
<rect x="299.20" y="123.80" width="9.60" height="5.70" rx="0.6" fill="#fff" stroke="#4a4a4a" stroke-width="1.1"/>
<rect x="328.00" y="123.80" width="9.60" height="5.70" rx="0.6" fill="#fff" stroke="#4a4a4a" stroke-width="1.1"/>
<line x1="308.80" y1="126.60" x2="312.70" y2="126.60" stroke="#777" stroke-width="0.8" />
<line x1="324.20" y1="126.60" x2="328.00" y2="126.60" stroke="#777" stroke-width="0.8" />
<rect x="312.70" y="126.60" width="11.50" height="5.40" rx="0" fill="#fff" stroke="#555" stroke-width="1.0"/>
<line x1="318.40" y1="126.60" x2="318.40" y2="146.00" stroke="#a0a0a0" stroke-width="0.8" />
<rect x="299.70" y="132.6" width="1.8" height="9.0" rx="0.8" fill="#c4c4c4" stroke="#a8a8a8" stroke-width="0.5"/>
<rect x="305.80" y="132.6" width="1.8" height="9.0" rx="0.8" fill="#c4c4c4" stroke="#a8a8a8" stroke-width="0.5"/>
<rect x="308.90" y="132.6" width="1.8" height="9.0" rx="0.8" fill="#c4c4c4" stroke="#a8a8a8" stroke-width="0.5"/>
<rect x="312.70" y="132.6" width="1.8" height="9.0" rx="0.8" fill="#c4c4c4" stroke="#a8a8a8" stroke-width="0.5"/>
<rect x="322.90" y="132.6" width="1.8" height="9.0" rx="0.8" fill="#c4c4c4" stroke="#a8a8a8" stroke-width="0.5"/>
<rect x="326.70" y="132.6" width="1.8" height="9.0" rx="0.8" fill="#c4c4c4" stroke="#a8a8a8" stroke-width="0.5"/>
<rect x="329.50" y="132.6" width="1.8" height="9.0" rx="0.8" fill="#c4c4c4" stroke="#a8a8a8" stroke-width="0.5"/>
<rect x="335.30" y="132.6" width="1.8" height="9.0" rx="0.8" fill="#c4c4c4" stroke="#a8a8a8" stroke-width="0.5"/>
<rect x="316.60" y="132.6" width="4.4" height="9.0" fill="#d0d0d0" stroke="#a8a8a8" stroke-width="0.5"/>
<rect x="84.30" y="132.80" width="2.40" height="8.80" rx="0" fill="#777" stroke="#555" stroke-width="0.6"/>
<rect x="339.40" y="132.80" width="2.40" height="8.80" rx="0" fill="#777" stroke="#555" stroke-width="0.6"/>
<line x1="107.00" y1="140.00" x2="107.00" y2="163.50" stroke="#989898" stroke-width="1.0" />
<line x1="318.00" y1="140.00" x2="318.00" y2="163.50" stroke="#989898" stroke-width="1.0" />
<line x1="107.00" y1="163.20" x2="318.00" y2="163.20" stroke="#989898" stroke-width="1.0" />
<polygon points="107.50,163.20 113.50,162.05 113.50,164.35" fill="#222"/>
<polygon points="317.50,163.20 311.50,162.05 311.50,164.35" fill="#222"/>
<text x="198.51" y="159.20" font-family="Liberation Sans" font-size="10.80" fill="#2a2a2a" textLength="28.97" lengthAdjust="spacing">81.30</text>
<line x1="84.70" y1="179.30" x2="340.60" y2="179.30" stroke="#989898" stroke-width="1.0" />
<polygon points="85.10,179.30 91.10,178.15 91.10,180.45" fill="#222"/>
<polygon points="340.30,179.30 334.30,178.15 334.30,180.45" fill="#222"/>
<text x="198.51" y="176.00" font-family="Liberation Sans" font-size="10.80" fill="#2a2a2a" textLength="28.97" lengthAdjust="spacing">98.18</text>
<line x1="471.50" y1="43.00" x2="471.50" y2="61.50" stroke="#989898" stroke-width="1.0" />
<line x1="553.40" y1="43.00" x2="553.40" y2="61.50" stroke="#989898" stroke-width="1.0" />
<line x1="471.50" y1="45.30" x2="553.40" y2="45.30" stroke="#989898" stroke-width="1.0" />
<polygon points="472.00,45.30 478.00,44.15 478.00,46.45" fill="#222"/>
<polygon points="552.90,45.30 546.90,44.15 546.90,46.45" fill="#222"/>
<text x="501.11" y="42.90" font-family="Liberation Sans" font-size="10.80" fill="#2a2a2a" textLength="28.67" lengthAdjust="spacing">31.20</text>
<line x1="436.50" y1="59.30" x2="471.50" y2="59.30" stroke="#989898" stroke-width="1.0" />
<line x1="451.30" y1="61.40" x2="582.60" y2="61.40" stroke="#989898" stroke-width="1.0" />
<line x1="436.40" y1="132.20" x2="471.50" y2="132.20" stroke="#989898" stroke-width="1.0" />
<line x1="437.60" y1="59.30" x2="437.60" y2="132.20" stroke="#989898" stroke-width="1.0" />
<polygon points="437.60,59.80 436.45,65.80 438.75,65.80" fill="#222"/>
<polygon points="437.60,131.70 436.45,125.70 438.75,125.70" fill="#222"/>
<line x1="452.00" y1="61.40" x2="452.00" y2="132.20" stroke="#989898" stroke-width="1.0" />
<polygon points="452.00,61.90 450.85,67.90 453.15,67.90" fill="#222"/>
<polygon points="452.00,131.70 450.85,125.70 453.15,125.70" fill="#222"/>
<text transform="translate(435.60,109.79) rotate(-90)" x="0" y="0" font-family="Liberation Sans" font-size="10.80" fill="#2a2a2a" textLength="28.77" lengthAdjust="spacing">27.90</text>
<text transform="translate(449.90,109.79) rotate(-90)" x="0" y="0" font-family="Liberation Sans" font-size="10.80" fill="#2a2a2a" textLength="28.77" lengthAdjust="spacing">27.20</text>
<line x1="471.50" y1="61.40" x2="471.50" y2="132.00" stroke="#989898" stroke-width="1.0" />
<path d="M471.5,61.6 Q476,59 479,61.6" fill="none" stroke="#6a6a6a" stroke-width="0.8"/>
<path d="M471.5,123 Q470,126.5 471.5,130" fill="none" stroke="#6a6a6a" stroke-width="0.8"/>
<path d="M471.5,65 Q470,68.5 471.5,72" fill="none" stroke="#6a6a6a" stroke-width="0.8"/>
<line x1="471.50" y1="74.70" x2="493.50" y2="74.70" stroke="#6a6a6a" stroke-width="1.0" />
<line x1="471.50" y1="81.00" x2="493.50" y2="81.00" stroke="#6a6a6a" stroke-width="1.0" />
<line x1="472.80" y1="74.70" x2="472.80" y2="81.00" stroke="#6a6a6a" stroke-width="0.9" />
<line x1="476.50" y1="74.70" x2="476.50" y2="81.00" stroke="#6a6a6a" stroke-width="0.9" />
<line x1="480.60" y1="74.70" x2="480.60" y2="81.00" stroke="#888" stroke-width="0.8" />
<line x1="471.50" y1="112.70" x2="493.50" y2="112.70" stroke="#6a6a6a" stroke-width="1.0" />
<line x1="471.50" y1="119.10" x2="493.50" y2="119.10" stroke="#6a6a6a" stroke-width="1.0" />
<line x1="472.80" y1="112.70" x2="472.80" y2="119.10" stroke="#6a6a6a" stroke-width="0.9" />
<line x1="476.50" y1="112.70" x2="476.50" y2="119.10" stroke="#6a6a6a" stroke-width="0.9" />
<line x1="480.60" y1="112.70" x2="480.60" y2="119.10" stroke="#888" stroke-width="0.8" />
<rect x="540.40" y="61.40" width="13.00" height="69.80" rx="0" fill="none" stroke="#808080" stroke-width="1.0"/>
<polyline points="542.7,131 542.7,66.3 552.4,66.3 552.4,131" fill="none" stroke="#8a8a8a" stroke-width="0.9"/>
<rect x="544.60" y="78.10" width="4.60" height="4.40" rx="0.8" fill="none" stroke="#777" stroke-width="0.8"/>
<rect x="544.60" y="109.10" width="4.60" height="4.50" rx="0.8" fill="none" stroke="#777" stroke-width="0.8"/>
<line x1="436.40" y1="131.50" x2="540.80" y2="131.50" stroke="#8f8f8f" stroke-width="1.2" />
<line x1="553.40" y1="131.50" x2="569.50" y2="131.50" stroke="#989898" stroke-width="1.0" />
<line x1="540.80" y1="141.10" x2="582.30" y2="141.10" stroke="#989898" stroke-width="1.0" />
<line x1="582.00" y1="61.40" x2="582.00" y2="141.10" stroke="#989898" stroke-width="1.0" />
<polygon points="582.00,61.90 580.85,67.90 583.15,67.90" fill="#222"/>
<polygon points="582.00,140.60 580.85,134.60 583.15,134.60" fill="#222"/>
<text transform="translate(579.30,111.89) rotate(-90)" x="0" y="0" font-family="Liberation Sans" font-size="10.80" fill="#2a2a2a" textLength="24.87" lengthAdjust="spacing">30.5</text>
<line x1="569.60" y1="100.50" x2="569.60" y2="131.50" stroke="#989898" stroke-width="1.0" />
<polygon points="569.60,131.00 568.45,125.00 570.75,125.00" fill="#222"/>
<polygon points="569.60,141.60 568.45,147.60 570.75,147.60" fill="#222"/>
<line x1="569.60" y1="141.10" x2="569.60" y2="151.40" stroke="#989898" stroke-width="1.0" />
<text transform="translate(568.00,124.49) rotate(-90)" x="0" y="0" font-family="Liberation Sans" font-size="10.80" fill="#2a2a2a" textLength="22.97" lengthAdjust="spacing">3.20</text>
<rect x="489.7" y="127.8" width="11.8" height="1.6" fill="#e2e2e2"/>
<ellipse cx="487.5" cy="134" rx="1.6" ry="7.4" fill="#d8d8d8" stroke="#777" stroke-width="0.8"/>
<line x1="487.50" y1="126.50" x2="487.50" y2="141.60" stroke="#888" stroke-width="0.8" />
<line x1="493.00" y1="126.50" x2="493.00" y2="141.60" stroke="#555" stroke-width="0.9" />
<path d="M495.8,129 L495.8,137.5 Q497.7,140.5 499.6,137.5 L499.6,129 M499.6,137.5 Q501.8,140.5 504.0,137.5 L504.0,129" fill="none" stroke="#777" stroke-width="0.8"/>
<line x1="516.30" y1="127.50" x2="516.30" y2="141.60" stroke="#555" stroke-width="0.9" />
<ellipse cx="524.4" cy="134.6" rx="2.4" ry="6.9" fill="#b8b8b8" stroke="#666" stroke-width="0.8"/>
<ellipse cx="534.9" cy="134.3" rx="2.2" ry="6.9" fill="#d8d8d8" stroke="#777" stroke-width="0.8"/>
<line x1="533.60" y1="127.00" x2="533.60" y2="141.60" stroke="#777" stroke-width="0.8" />
<line x1="536.20" y1="127.00" x2="536.20" y2="141.60" stroke="#777" stroke-width="0.8" />
<line x1="540.10" y1="127.00" x2="540.10" y2="141.60" stroke="#555" stroke-width="0.9" />
<line x1="548.00" y1="127.00" x2="548.00" y2="141.60" stroke="#666" stroke-width="0.9" />
<line x1="499.60" y1="131.00" x2="499.60" y2="222.00" stroke="#666" stroke-width="1.0" />
<line x1="471.50" y1="132.00" x2="471.50" y2="155.00" stroke="#989898" stroke-width="1.0" />
<line x1="440.00" y1="154.80" x2="499.60" y2="154.80" stroke="#989898" stroke-width="1.0" />
<polygon points="471.90,154.80 477.90,153.65 477.90,155.95" fill="#222"/>
<polygon points="499.10,154.80 493.10,153.65 493.10,155.95" fill="#222"/>
<text x="439.41" y="153.40" font-family="Liberation Sans" font-size="10.80" fill="#2a2a2a" textLength="27.77" lengthAdjust="spacing">10.79</text>
<line x1="493.40" y1="141.00" x2="493.40" y2="164.60" stroke="#989898" stroke-width="1.0" />
<line x1="443.40" y1="164.60" x2="493.40" y2="164.60" stroke="#989898" stroke-width="1.0" />
<polygon points="493.00,164.60 487.00,163.45 487.00,165.75" fill="#222"/>
<line x1="499.60" y1="164.60" x2="510.00" y2="164.60" stroke="#989898" stroke-width="1.0" />
<polygon points="500.10,164.60 506.10,163.45 506.10,165.75" fill="#222"/>
<text x="444.41" y="163.50" font-family="Liberation Sans" font-size="10.80" fill="#2a2a2a" textLength="22.77" lengthAdjust="spacing">2.54</text>
<line x1="487.90" y1="141.00" x2="487.90" y2="174.40" stroke="#989898" stroke-width="1.0" />
<line x1="443.00" y1="174.40" x2="487.90" y2="174.40" stroke="#989898" stroke-width="1.0" />
<polygon points="487.50,174.40 481.50,173.25 481.50,175.55" fill="#222"/>
<line x1="499.60" y1="174.40" x2="510.00" y2="174.40" stroke="#989898" stroke-width="1.0" />
<polygon points="500.10,174.40 506.10,173.25 506.10,175.55" fill="#222"/>
<text x="445.21" y="172.90" font-family="Liberation Sans" font-size="10.80" fill="#2a2a2a" textLength="21.97" lengthAdjust="spacing">4.70</text>
<line x1="443.00" y1="184.40" x2="516.70" y2="184.40" stroke="#989898" stroke-width="1.0" />
<line x1="516.70" y1="141.00" x2="516.70" y2="184.40" stroke="#989898" stroke-width="1.0" />
<polygon points="516.20,184.40 510.20,183.25 510.20,185.55" fill="#222"/>
<polygon points="500.10,184.40 506.10,183.25 506.10,185.55" fill="#222"/>
<text x="445.21" y="182.50" font-family="Liberation Sans" font-size="10.80" fill="#2a2a2a" textLength="21.97" lengthAdjust="spacing">6.35</text>
<line x1="499.60" y1="171.10" x2="591.00" y2="171.10" stroke="#989898" stroke-width="1.0" />
<line x1="523.00" y1="141.00" x2="523.00" y2="171.10" stroke="#989898" stroke-width="1.0" />
<polygon points="500.10,171.10 506.10,169.95 506.10,172.25" fill="#222"/>
<polygon points="522.50,171.10 516.50,169.95 516.50,172.25" fill="#222"/>
<text x="565.31" y="168.20" font-family="Liberation Sans" font-size="10.80" fill="#2a2a2a" textLength="22.67" lengthAdjust="spacing">8.89</text>
<line x1="499.60" y1="180.40" x2="591.00" y2="180.40" stroke="#989898" stroke-width="1.0" />
<line x1="525.00" y1="141.00" x2="525.00" y2="180.40" stroke="#989898" stroke-width="1.0" />
<polygon points="500.10,180.40 506.10,179.25 506.10,181.55" fill="#222"/>
<polygon points="524.50,180.40 518.50,179.25 518.50,181.55" fill="#222"/>
<text x="565.31" y="178.70" font-family="Liberation Sans" font-size="10.80" fill="#2a2a2a" textLength="22.67" lengthAdjust="spacing">9.66</text>
<line x1="499.60" y1="190.50" x2="591.00" y2="190.50" stroke="#989898" stroke-width="1.0" />
<line x1="534.00" y1="141.00" x2="534.00" y2="190.50" stroke="#989898" stroke-width="1.0" />
<polygon points="500.10,190.50 506.10,189.35 506.10,191.65" fill="#222"/>
<polygon points="533.50,190.50 527.50,189.35 527.50,191.65" fill="#222"/>
<text x="561.51" y="188.40" font-family="Liberation Sans" font-size="10.80" fill="#2a2a2a" textLength="26.47" lengthAdjust="spacing">12.95</text>
<line x1="499.60" y1="200.10" x2="591.00" y2="200.10" stroke="#989898" stroke-width="1.0" />
<line x1="536.40" y1="141.00" x2="536.40" y2="200.10" stroke="#989898" stroke-width="1.0" />
<polygon points="500.10,200.10 506.10,198.95 506.10,201.25" fill="#222"/>
<polygon points="535.90,200.10 529.90,198.95 529.90,201.25" fill="#222"/>
<text x="561.51" y="198.00" font-family="Liberation Sans" font-size="10.80" fill="#2a2a2a" textLength="26.47" lengthAdjust="spacing">13.97</text>
<line x1="499.60" y1="210.20" x2="591.00" y2="210.20" stroke="#989898" stroke-width="1.0" />
<line x1="540.60" y1="141.00" x2="540.60" y2="210.20" stroke="#989898" stroke-width="1.0" />
<polygon points="500.10,210.20 506.10,209.05 506.10,211.35" fill="#222"/>
<polygon points="540.10,210.20 534.10,209.05 534.10,211.35" fill="#222"/>
<text x="558.91" y="208.20" font-family="Liberation Sans" font-size="10.80" fill="#2a2a2a" textLength="29.07" lengthAdjust="spacing">15.49</text>
<line x1="499.60" y1="220.50" x2="591.00" y2="220.50" stroke="#989898" stroke-width="1.0" />
<line x1="548.30" y1="141.00" x2="548.30" y2="220.50" stroke="#989898" stroke-width="1.0" />
<polygon points="500.10,220.50 506.10,219.35 506.10,221.65" fill="#222"/>
<polygon points="547.80,220.50 541.80,219.35 541.80,221.65" fill="#222"/>
<text x="558.91" y="218.40" font-family="Liberation Sans" font-size="10.80" fill="#2a2a2a" textLength="29.07" lengthAdjust="spacing">18.51</text>
<line x1="524.50" y1="141.00" x2="524.50" y2="180.40" stroke="#bbb" stroke-width="1.6" />
<circle cx="87.00" cy="253.30" r="1.35" fill="#6f6f6f"/>
<circle cx="93.60" cy="253.30" r="1.35" fill="#6f6f6f"/>
<circle cx="116.20" cy="253.30" r="1.35" fill="#6f6f6f"/>
<circle cx="122.90" cy="253.30" r="1.35" fill="#6f6f6f"/>
<circle cx="87.00" cy="307.90" r="1.35" fill="#6f6f6f"/>
<circle cx="93.60" cy="307.90" r="1.35" fill="#6f6f6f"/>
<circle cx="116.20" cy="307.90" r="1.35" fill="#6f6f6f"/>
<circle cx="122.90" cy="307.90" r="1.35" fill="#6f6f6f"/>
<circle cx="96.50" cy="276.50" r="1.35" fill="#6f6f6f"/>
<circle cx="103.20" cy="276.50" r="1.35" fill="#6f6f6f"/>
<circle cx="109.90" cy="276.50" r="1.35" fill="#6f6f6f"/>
<circle cx="116.70" cy="276.50" r="1.35" fill="#6f6f6f"/>
<circle cx="96.50" cy="293.70" r="1.35" fill="#6f6f6f"/>
<circle cx="103.20" cy="293.70" r="1.35" fill="#6f6f6f"/>
<circle cx="109.90" cy="293.70" r="1.35" fill="#6f6f6f"/>
<circle cx="116.70" cy="293.70" r="1.35" fill="#6f6f6f"/>
<circle cx="93.20" cy="283.20" r="1.35" fill="#6f6f6f"/>
<circle cx="99.90" cy="283.20" r="1.35" fill="#6f6f6f"/>
<circle cx="106.60" cy="283.20" r="1.35" fill="#6f6f6f"/>
<circle cx="113.30" cy="283.20" r="1.35" fill="#6f6f6f"/>
<circle cx="93.20" cy="300.30" r="1.35" fill="#6f6f6f"/>
<circle cx="99.90" cy="300.30" r="1.35" fill="#6f6f6f"/>
<circle cx="106.60" cy="300.30" r="1.35" fill="#6f6f6f"/>
<circle cx="113.30" cy="300.30" r="1.35" fill="#6f6f6f"/>
<circle cx="129.38" cy="253.30" r="1.35" fill="#6f6f6f"/>
<circle cx="135.98" cy="253.30" r="1.35" fill="#6f6f6f"/>
<circle cx="158.58" cy="253.30" r="1.35" fill="#6f6f6f"/>
<circle cx="165.28" cy="253.30" r="1.35" fill="#6f6f6f"/>
<circle cx="129.38" cy="307.90" r="1.35" fill="#6f6f6f"/>
<circle cx="135.98" cy="307.90" r="1.35" fill="#6f6f6f"/>
<circle cx="158.58" cy="307.90" r="1.35" fill="#6f6f6f"/>
<circle cx="165.28" cy="307.90" r="1.35" fill="#6f6f6f"/>
<circle cx="138.88" cy="276.50" r="1.35" fill="#6f6f6f"/>
<circle cx="145.58" cy="276.50" r="1.35" fill="#6f6f6f"/>
<circle cx="152.28" cy="276.50" r="1.35" fill="#6f6f6f"/>
<circle cx="159.08" cy="276.50" r="1.35" fill="#6f6f6f"/>
<circle cx="138.88" cy="293.70" r="1.35" fill="#6f6f6f"/>
<circle cx="145.58" cy="293.70" r="1.35" fill="#6f6f6f"/>
<circle cx="152.28" cy="293.70" r="1.35" fill="#6f6f6f"/>
<circle cx="159.08" cy="293.70" r="1.35" fill="#6f6f6f"/>
<circle cx="135.58" cy="283.20" r="1.35" fill="#6f6f6f"/>
<circle cx="142.28" cy="283.20" r="1.35" fill="#6f6f6f"/>
<circle cx="148.98" cy="283.20" r="1.35" fill="#6f6f6f"/>
<circle cx="155.68" cy="283.20" r="1.35" fill="#6f6f6f"/>
<circle cx="135.58" cy="300.30" r="1.35" fill="#6f6f6f"/>
<circle cx="142.28" cy="300.30" r="1.35" fill="#6f6f6f"/>
<circle cx="148.98" cy="300.30" r="1.35" fill="#6f6f6f"/>
<circle cx="155.68" cy="300.30" r="1.35" fill="#6f6f6f"/>
<circle cx="171.76" cy="253.30" r="1.35" fill="#6f6f6f"/>
<circle cx="178.36" cy="253.30" r="1.35" fill="#6f6f6f"/>
<circle cx="200.96" cy="253.30" r="1.35" fill="#6f6f6f"/>
<circle cx="207.66" cy="253.30" r="1.35" fill="#6f6f6f"/>
<circle cx="171.76" cy="307.90" r="1.35" fill="#6f6f6f"/>
<circle cx="178.36" cy="307.90" r="1.35" fill="#6f6f6f"/>
<circle cx="200.96" cy="307.90" r="1.35" fill="#6f6f6f"/>
<circle cx="207.66" cy="307.90" r="1.35" fill="#6f6f6f"/>
<circle cx="181.26" cy="276.50" r="1.35" fill="#6f6f6f"/>
<circle cx="187.96" cy="276.50" r="1.35" fill="#6f6f6f"/>
<circle cx="194.66" cy="276.50" r="1.35" fill="#6f6f6f"/>
<circle cx="201.46" cy="276.50" r="1.35" fill="#6f6f6f"/>
<circle cx="181.26" cy="293.70" r="1.35" fill="#6f6f6f"/>
<circle cx="187.96" cy="293.70" r="1.35" fill="#6f6f6f"/>
<circle cx="194.66" cy="293.70" r="1.35" fill="#6f6f6f"/>
<circle cx="201.46" cy="293.70" r="1.35" fill="#6f6f6f"/>
<circle cx="177.96" cy="283.20" r="1.35" fill="#6f6f6f"/>
<circle cx="184.66" cy="283.20" r="1.35" fill="#6f6f6f"/>
<circle cx="191.36" cy="283.20" r="1.35" fill="#6f6f6f"/>
<circle cx="198.06" cy="283.20" r="1.35" fill="#6f6f6f"/>
<circle cx="177.96" cy="300.30" r="1.35" fill="#6f6f6f"/>
<circle cx="184.66" cy="300.30" r="1.35" fill="#6f6f6f"/>
<circle cx="191.36" cy="300.30" r="1.35" fill="#6f6f6f"/>
<circle cx="198.06" cy="300.30" r="1.35" fill="#6f6f6f"/>
<circle cx="214.14" cy="253.30" r="1.35" fill="#6f6f6f"/>
<circle cx="220.74" cy="253.30" r="1.35" fill="#6f6f6f"/>
<circle cx="243.34" cy="253.30" r="1.35" fill="#6f6f6f"/>
<circle cx="250.04" cy="253.30" r="1.35" fill="#6f6f6f"/>
<circle cx="214.14" cy="307.90" r="1.35" fill="#6f6f6f"/>
<circle cx="220.74" cy="307.90" r="1.35" fill="#6f6f6f"/>
<circle cx="243.34" cy="307.90" r="1.35" fill="#6f6f6f"/>
<circle cx="250.04" cy="307.90" r="1.35" fill="#6f6f6f"/>
<circle cx="223.64" cy="276.50" r="1.35" fill="#6f6f6f"/>
<circle cx="230.34" cy="276.50" r="1.35" fill="#6f6f6f"/>
<circle cx="237.04" cy="276.50" r="1.35" fill="#6f6f6f"/>
<circle cx="243.84" cy="276.50" r="1.35" fill="#6f6f6f"/>
<circle cx="223.64" cy="293.70" r="1.35" fill="#6f6f6f"/>
<circle cx="230.34" cy="293.70" r="1.35" fill="#6f6f6f"/>
<circle cx="237.04" cy="293.70" r="1.35" fill="#6f6f6f"/>
<circle cx="243.84" cy="293.70" r="1.35" fill="#6f6f6f"/>
<circle cx="220.34" cy="283.20" r="1.35" fill="#6f6f6f"/>
<circle cx="227.04" cy="283.20" r="1.35" fill="#6f6f6f"/>
<circle cx="233.74" cy="283.20" r="1.35" fill="#6f6f6f"/>
<circle cx="240.44" cy="283.20" r="1.35" fill="#6f6f6f"/>
<circle cx="220.34" cy="300.30" r="1.35" fill="#6f6f6f"/>
<circle cx="227.04" cy="300.30" r="1.35" fill="#6f6f6f"/>
<circle cx="233.74" cy="300.30" r="1.35" fill="#6f6f6f"/>
<circle cx="240.44" cy="300.30" r="1.35" fill="#6f6f6f"/>
<circle cx="256.52" cy="253.30" r="1.35" fill="#6f6f6f"/>
<circle cx="263.12" cy="253.30" r="1.35" fill="#6f6f6f"/>
<circle cx="285.72" cy="253.30" r="1.35" fill="#6f6f6f"/>
<circle cx="292.42" cy="253.30" r="1.35" fill="#6f6f6f"/>
<circle cx="256.52" cy="307.90" r="1.35" fill="#6f6f6f"/>
<circle cx="263.12" cy="307.90" r="1.35" fill="#6f6f6f"/>
<circle cx="285.72" cy="307.90" r="1.35" fill="#6f6f6f"/>
<circle cx="292.42" cy="307.90" r="1.35" fill="#6f6f6f"/>
<circle cx="266.02" cy="276.50" r="1.35" fill="#6f6f6f"/>
<circle cx="272.72" cy="276.50" r="1.35" fill="#6f6f6f"/>
<circle cx="279.42" cy="276.50" r="1.35" fill="#6f6f6f"/>
<circle cx="286.22" cy="276.50" r="1.35" fill="#6f6f6f"/>
<circle cx="266.02" cy="293.70" r="1.35" fill="#6f6f6f"/>
<circle cx="272.72" cy="293.70" r="1.35" fill="#6f6f6f"/>
<circle cx="279.42" cy="293.70" r="1.35" fill="#6f6f6f"/>
<circle cx="286.22" cy="293.70" r="1.35" fill="#6f6f6f"/>
<circle cx="262.72" cy="283.20" r="1.35" fill="#6f6f6f"/>
<circle cx="269.42" cy="283.20" r="1.35" fill="#6f6f6f"/>
<circle cx="276.12" cy="283.20" r="1.35" fill="#6f6f6f"/>
<circle cx="282.82" cy="283.20" r="1.35" fill="#6f6f6f"/>
<circle cx="262.72" cy="300.30" r="1.35" fill="#6f6f6f"/>
<circle cx="269.42" cy="300.30" r="1.35" fill="#6f6f6f"/>
<circle cx="276.12" cy="300.30" r="1.35" fill="#6f6f6f"/>
<circle cx="282.82" cy="300.30" r="1.35" fill="#6f6f6f"/>
<circle cx="298.90" cy="253.30" r="1.35" fill="#6f6f6f"/>
<circle cx="305.50" cy="253.30" r="1.35" fill="#6f6f6f"/>
<circle cx="328.10" cy="253.30" r="1.35" fill="#6f6f6f"/>
<circle cx="334.80" cy="253.30" r="1.35" fill="#6f6f6f"/>
<circle cx="298.90" cy="307.90" r="1.35" fill="#6f6f6f"/>
<circle cx="305.50" cy="307.90" r="1.35" fill="#6f6f6f"/>
<circle cx="328.10" cy="307.90" r="1.35" fill="#6f6f6f"/>
<circle cx="334.80" cy="307.90" r="1.35" fill="#6f6f6f"/>
<circle cx="308.40" cy="276.50" r="1.35" fill="#6f6f6f"/>
<circle cx="315.10" cy="276.50" r="1.35" fill="#6f6f6f"/>
<circle cx="321.80" cy="276.50" r="1.35" fill="#6f6f6f"/>
<circle cx="328.60" cy="276.50" r="1.35" fill="#6f6f6f"/>
<circle cx="308.40" cy="293.70" r="1.35" fill="#6f6f6f"/>
<circle cx="315.10" cy="293.70" r="1.35" fill="#6f6f6f"/>
<circle cx="321.80" cy="293.70" r="1.35" fill="#6f6f6f"/>
<circle cx="328.60" cy="293.70" r="1.35" fill="#6f6f6f"/>
<circle cx="305.10" cy="283.20" r="1.35" fill="#6f6f6f"/>
<circle cx="311.80" cy="283.20" r="1.35" fill="#6f6f6f"/>
<circle cx="318.50" cy="283.20" r="1.35" fill="#6f6f6f"/>
<circle cx="325.20" cy="283.20" r="1.35" fill="#6f6f6f"/>
<circle cx="305.10" cy="300.30" r="1.35" fill="#6f6f6f"/>
<circle cx="311.80" cy="300.30" r="1.35" fill="#6f6f6f"/>
<circle cx="318.50" cy="300.30" r="1.35" fill="#6f6f6f"/>
<circle cx="325.20" cy="300.30" r="1.35" fill="#6f6f6f"/>
<line x1="104.80" y1="269" x2="104.80" y2="306" stroke="#989898" stroke-width="1" stroke-dasharray="23,2,1,2,60"/>
<line x1="147.18" y1="269" x2="147.18" y2="318.6" stroke="#989898" stroke-width="1" stroke-dasharray="23,2,1,2,60"/>
<line x1="189.56" y1="269" x2="189.56" y2="310" stroke="#989898" stroke-width="1" stroke-dasharray="23,2,1,2,60"/>
<line x1="231.94" y1="269" x2="231.94" y2="328" stroke="#989898" stroke-width="1" stroke-dasharray="23,2,1,2,60"/>
<line x1="274.32" y1="258" x2="274.32" y2="328" stroke="#989898" stroke-width="1" stroke-dasharray="23,2,1,2,60"/>
<line x1="316.70" y1="268.6" x2="316.70" y2="311" stroke="#989898" stroke-width="1" stroke-dasharray="23,2,1,2,60"/>
<line x1="210.7" y1="248" x2="210.7" y2="327" stroke="#989898" stroke-width="1" stroke-dasharray="17,2.5"/>
<circle cx="104.90" cy="259.80" r="4.40" fill="none" stroke="#8a8a8a" stroke-width="0.9"/>
<circle cx="316.50" cy="259.90" r="4.40" fill="none" stroke="#8a8a8a" stroke-width="0.9"/>
<circle cx="82.70" cy="247.70" r="1.80" fill="none" stroke="#777" stroke-width="0.8"/>
<circle cx="84.60" cy="285.10" r="1.80" fill="none" stroke="#777" stroke-width="0.8"/>
<circle cx="82.70" cy="296.50" r="1.80" fill="none" stroke="#777" stroke-width="0.8"/>
<circle cx="338.40" cy="247.90" r="1.80" fill="none" stroke="#777" stroke-width="0.8"/>
<line x1="82.90" y1="216.30" x2="338.40" y2="216.30" stroke="#989898" stroke-width="1.0" />
<line x1="82.90" y1="216.30" x2="82.90" y2="296.50" stroke="#888" stroke-width="1.0" />
<line x1="104.80" y1="216.30" x2="104.80" y2="255.50" stroke="#989898" stroke-width="1.0" />
<line x1="316.60" y1="216.30" x2="316.60" y2="255.50" stroke="#989898" stroke-width="1.0" />
<line x1="338.40" y1="216.30" x2="338.40" y2="285.00" stroke="#999" stroke-width="1.0" />
<rect x="336.3" y="285" width="3.3" height="36" fill="#d6d6d6" stroke="#aaa" stroke-width="0.7"/>
<circle cx="338.20" cy="285.10" r="1.80" fill="none" stroke="#777" stroke-width="0.8"/>
<circle cx="338.00" cy="296.00" r="1.80" fill="none" stroke="#777" stroke-width="0.8"/>
<polygon points="83.40,216.30 89.40,215.15 89.40,217.45" fill="#222"/>
<polygon points="104.30,216.30 98.30,215.15 98.30,217.45" fill="#222"/>
<polygon points="105.30,216.30 111.30,215.15 111.30,217.45" fill="#222"/>
<polygon points="316.10,216.30 310.10,215.15 310.10,217.45" fill="#222"/>
<polygon points="317.10,216.30 323.10,215.15 323.10,217.45" fill="#222"/>
<polygon points="337.90,216.30 331.90,215.15 331.90,217.45" fill="#222"/>
<text x="82.71" y="214.40" font-family="Liberation Sans" font-size="10.80" fill="#2a2a2a" textLength="22.47" lengthAdjust="spacing">8.44</text>
<text x="316.51" y="214.20" font-family="Liberation Sans" font-size="10.80" fill="#2a2a2a" textLength="21.97" lengthAdjust="spacing">8.44</text>
<text x="196.51" y="214.40" font-family="Liberation Sans" font-size="10.80" fill="#2a2a2a" textLength="29.27" lengthAdjust="spacing">81.30</text>
<line x1="55.90" y1="218.40" x2="81.30" y2="246.20" stroke="#989898" stroke-width="1.0" />
<polygon points="81.50,246.40 77.20,243.60 79.20,241.80" fill="#222"/>
<text transform="translate(52.58,214.39) rotate(42.10)" x="0" y="0" font-family="Liberation Sans" font-size="11.00" fill="#2a2a2a" textLength="35.50" lengthAdjust="spacing">6-ϕ1.7</text>
<line x1="61.40" y1="259.80" x2="104.90" y2="259.80" stroke="#989898" stroke-width="1.0" />
<line x1="61.40" y1="296.50" x2="80.90" y2="296.50" stroke="#989898" stroke-width="1.0" />
<line x1="71.00" y1="285.10" x2="82.80" y2="285.10" stroke="#989898" stroke-width="1.0" />
<line x1="62.10" y1="259.80" x2="62.10" y2="296.50" stroke="#989898" stroke-width="1.0" />
<polygon points="62.10,260.30 60.95,266.30 63.25,266.30" fill="#222"/>
<polygon points="62.10,296.00 60.95,290.00 63.25,290.00" fill="#222"/>
<line x1="77.30" y1="259.80" x2="77.30" y2="285.10" stroke="#989898" stroke-width="1.0" />
<polygon points="77.30,260.30 76.15,266.30 78.45,266.30" fill="#222"/>
<polygon points="77.30,284.60 76.15,278.60 78.45,278.60" fill="#222"/>
<text transform="translate(60.20,290.99) rotate(-90)" x="0" y="0" font-family="Liberation Sans" font-size="10.80" fill="#2a2a2a" textLength="26.97" lengthAdjust="spacing">13.97</text>
<text transform="translate(74.70,282.29) rotate(-90)" x="0" y="0" font-family="Liberation Sans" font-size="10.80" fill="#2a2a2a" textLength="20.47" lengthAdjust="spacing">9.65</text>
<line x1="171.50" y1="230.80" x2="171.50" y2="253.30" stroke="#989898" stroke-width="1.0" />
<line x1="207.60" y1="230.80" x2="207.60" y2="253.30" stroke="#989898" stroke-width="1.0" />
<line x1="171.50" y1="230.80" x2="207.60" y2="230.80" stroke="#989898" stroke-width="1.0" />
<polygon points="172.00,230.80 178.00,229.65 178.00,231.95" fill="#222"/>
<polygon points="207.10,230.80 201.10,229.65 201.10,231.95" fill="#222"/>
<text x="176.31" y="228.90" font-family="Liberation Sans" font-size="10.80" fill="#2a2a2a" textLength="28.47" lengthAdjust="spacing">13.72</text>
<line x1="178.30" y1="243.80" x2="178.30" y2="253.30" stroke="#989898" stroke-width="1.0" />
<line x1="200.90" y1="243.80" x2="200.90" y2="253.30" stroke="#989898" stroke-width="1.0" />
<line x1="178.30" y1="243.80" x2="200.90" y2="243.80" stroke="#989898" stroke-width="1.0" />
<polygon points="178.80,243.80 184.80,242.65 184.80,244.95" fill="#222"/>
<polygon points="200.40,243.80 194.40,242.65 194.40,244.95" fill="#222"/>
<text x="178.51" y="241.20" font-family="Liberation Sans" font-size="10.80" fill="#2a2a2a" textLength="21.97" lengthAdjust="spacing">8.64</text>
<line x1="170.90" y1="264.20" x2="197.90" y2="264.20" stroke="#989898" stroke-width="1.0" />
<polygon points="197.40,264.20 191.40,263.05 191.40,265.35" fill="#222"/>
<line x1="201.10" y1="264.20" x2="211.40" y2="264.20" stroke="#989898" stroke-width="1.0" />
<polygon points="201.60,264.20 207.60,263.05 207.60,265.35" fill="#222"/>
<line x1="197.90" y1="264.20" x2="197.90" y2="283.20" stroke="#989898" stroke-width="1.0" />
<line x1="201.10" y1="264.20" x2="201.10" y2="276.50" stroke="#989898" stroke-width="1.0" />
<text x="170.41" y="263.10" font-family="Liberation Sans" font-size="10.80" fill="#2a2a2a" textLength="20.77" lengthAdjust="spacing">1.27</text>
<line x1="220.50" y1="263.20" x2="243.90" y2="263.20" stroke="#989898" stroke-width="1.0" />
<polygon points="221.00,263.20 227.00,262.05 227.00,264.35" fill="#222"/>
<polygon points="243.40,263.20 237.40,262.05 237.40,264.35" fill="#222"/>
<line x1="220.50" y1="263.20" x2="220.50" y2="283.20" stroke="#989898" stroke-width="1.0" />
<line x1="243.90" y1="263.20" x2="243.90" y2="276.50" stroke="#989898" stroke-width="1.0" />
<text x="221.01" y="261.30" font-family="Liberation Sans" font-size="10.80" fill="#2a2a2a" textLength="22.67" lengthAdjust="spacing">8.89</text>
<line x1="228.70" y1="238.60" x2="256.70" y2="238.60" stroke="#989898" stroke-width="1.0" />
<polygon points="256.20,238.60 250.20,237.45 250.20,239.75" fill="#222"/>
<line x1="263.20" y1="238.60" x2="273.60" y2="238.60" stroke="#989898" stroke-width="1.0" />
<polygon points="263.70,238.60 269.70,237.45 269.70,239.75" fill="#222"/>
<line x1="256.70" y1="238.60" x2="256.70" y2="253.30" stroke="#989898" stroke-width="1.0" />
<line x1="263.20" y1="238.60" x2="263.20" y2="253.30" stroke="#989898" stroke-width="1.0" />
<text x="228.21" y="236.70" font-family="Liberation Sans" font-size="10.80" fill="#2a2a2a" textLength="21.97" lengthAdjust="spacing">2.54</text>
<line x1="232.00" y1="319.00" x2="232.00" y2="328.00" stroke="#989898" stroke-width="1.0" />
<line x1="273.80" y1="319.00" x2="273.80" y2="328.00" stroke="#989898" stroke-width="1.0" />
<line x1="232.00" y1="325.90" x2="273.80" y2="325.90" stroke="#989898" stroke-width="1.0" />
<polygon points="232.50,325.90 238.50,324.75 238.50,327.05" fill="#222"/>
<polygon points="273.30,325.90 267.30,324.75 267.30,327.05" fill="#222"/>
<text x="239.51" y="324.40" font-family="Liberation Sans" font-size="10.80" fill="#2a2a2a" textLength="27.97" lengthAdjust="spacing">16.26</text>
<line x1="166.20" y1="337.40" x2="205.50" y2="309.60" stroke="#989898" stroke-width="1.0" />
<polygon points="207.30,308.40 201.60,310.90 203.10,313.00" fill="#222"/>
<text transform="translate(160.64,336.61) rotate(-33.43)" x="0" y="0" font-family="Liberation Sans" font-size="10.60" fill="#2a2a2a" textLength="48.19" lengthAdjust="spacing">144-ϕ1.1</text>
<line x1="279.40" y1="228.90" x2="312.50" y2="255.60" stroke="#989898" stroke-width="1.0" />
<polygon points="313.40,256.40 308.60,252.30 310.40,250.60" fill="#222"/>
<text transform="translate(276.78,224.74) rotate(36.81)" x="0" y="0" font-family="Liberation Sans" font-size="11.00" fill="#2a2a2a" textLength="42.34" lengthAdjust="spacing">2-ϕ3.25</text>
<text x="302.60" y="260.30" font-family="Liberation Sans" font-size="6.5" fill="#3a3a3a" text-anchor="middle">12 11</text>
<text x="330.00" y="260.30" font-family="Liberation Sans" font-size="6.5" fill="#3a3a3a" text-anchor="middle">10 9</text>
<text x="302.60" y="315.40" font-family="Liberation Sans" font-size="6.5" fill="#3a3a3a" text-anchor="middle">16 15</text>
<text x="330.00" y="315.40" font-family="Liberation Sans" font-size="6.5" fill="#3a3a3a" text-anchor="middle">14 13</text>
<text x="310.20" y="274.60" font-family="Liberation Sans" font-size="6.5" fill="#3a3a3a" text-anchor="middle">7</text>
<text x="316.85" y="274.60" font-family="Liberation Sans" font-size="6.5" fill="#3a3a3a" text-anchor="middle">5</text>
<text x="323.50" y="274.60" font-family="Liberation Sans" font-size="6.5" fill="#3a3a3a" text-anchor="middle">3</text>
<text x="330.15" y="274.60" font-family="Liberation Sans" font-size="6.5" fill="#3a3a3a" text-anchor="middle">1</text>
<text x="309.60" y="281.60" font-family="Liberation Sans" font-size="6.5" fill="#3a3a3a" text-anchor="middle">8</text>
<text x="316.20" y="281.60" font-family="Liberation Sans" font-size="6.5" fill="#3a3a3a" text-anchor="middle">6</text>
<text x="322.80" y="281.60" font-family="Liberation Sans" font-size="6.5" fill="#3a3a3a" text-anchor="middle">4</text>
<text x="329.40" y="281.60" font-family="Liberation Sans" font-size="6.5" fill="#3a3a3a" text-anchor="middle">2</text>
<text x="311.60" y="291.40" font-family="Liberation Sans" font-size="6.5" fill="#3a3a3a" text-anchor="middle">2</text>
<text x="317.60" y="291.40" font-family="Liberation Sans" font-size="6.5" fill="#3a3a3a" text-anchor="middle">4</text>
<text x="323.60" y="291.40" font-family="Liberation Sans" font-size="6.5" fill="#3a3a3a" text-anchor="middle">6</text>
<text x="329.60" y="291.40" font-family="Liberation Sans" font-size="6.5" fill="#3a3a3a" text-anchor="middle">8</text>
<text x="308.90" y="298.80" font-family="Liberation Sans" font-size="6.5" fill="#3a3a3a" text-anchor="middle">1</text>
<text x="315.50" y="298.80" font-family="Liberation Sans" font-size="6.5" fill="#3a3a3a" text-anchor="middle">3</text>
<text x="326.10" y="298.80" font-family="Liberation Sans" font-size="6.5" fill="#3a3a3a" text-anchor="middle">5-7</text>
<line x1="316.50" y1="259.80" x2="413.50" y2="259.80" stroke="#989898" stroke-width="1.0" />
<line x1="340.20" y1="247.90" x2="365.40" y2="247.90" stroke="#989898" stroke-width="1.0" />
<line x1="336.00" y1="253.30" x2="355.70" y2="253.30" stroke="#989898" stroke-width="1.0" />
<line x1="330.50" y1="276.50" x2="350.80" y2="276.50" stroke="#989898" stroke-width="1.0" />
<line x1="326.00" y1="283.20" x2="375.30" y2="283.20" stroke="#989898" stroke-width="1.0" />
<line x1="330.50" y1="293.70" x2="388.20" y2="293.70" stroke="#989898" stroke-width="1.0" />
<line x1="326.00" y1="300.30" x2="401.30" y2="300.30" stroke="#989898" stroke-width="1.0" />
<line x1="341.80" y1="307.90" x2="412.60" y2="307.90" stroke="#989898" stroke-width="1.0" />
<line x1="355.70" y1="222.00" x2="355.70" y2="253.30" stroke="#989898" stroke-width="1.0" />
<polygon points="355.70,252.80 354.55,246.80 356.85,246.80" fill="#222"/>
<line x1="355.70" y1="259.80" x2="355.70" y2="267.00" stroke="#989898" stroke-width="1.0" />
<polygon points="355.70,260.30 354.55,266.30 356.85,266.30" fill="#222"/>
<text transform="translate(353.50,243.99) rotate(-90)" x="0" y="0" font-family="Liberation Sans" font-size="10.80" fill="#2a2a2a" textLength="21.77" lengthAdjust="spacing">2.54</text>
<line x1="365.40" y1="219.00" x2="365.40" y2="247.90" stroke="#989898" stroke-width="1.0" />
<polygon points="365.40,247.40 364.25,241.40 366.55,241.40" fill="#222"/>
<line x1="365.40" y1="259.80" x2="365.40" y2="267.00" stroke="#989898" stroke-width="1.0" />
<polygon points="365.40,260.30 364.25,266.30 366.55,266.30" fill="#222"/>
<text transform="translate(364.50,241.49) rotate(-90)" x="0" y="0" font-family="Liberation Sans" font-size="10.80" fill="#2a2a2a" textLength="22.57" lengthAdjust="spacing">4.70</text>
<line x1="350.80" y1="259.80" x2="350.80" y2="276.50" stroke="#989898" stroke-width="1.0" />
<polygon points="350.80,260.30 349.65,266.30 351.95,266.30" fill="#222"/>
<polygon points="350.80,276.00 349.65,270.00 351.95,270.00" fill="#222"/>
<text transform="translate(348.10,276.73) rotate(-90)" x="0" y="0" font-family="Liberation Sans" font-size="9.60" fill="#2a2a2a" textLength="16.46" lengthAdjust="spacingAndGlyphs">6.35</text>
<line x1="375.30" y1="259.80" x2="375.30" y2="283.20" stroke="#989898" stroke-width="1.0" />
<polygon points="375.30,260.30 374.15,266.30 376.45,266.30" fill="#222"/>
<polygon points="375.30,282.70 374.15,276.70 376.45,276.70" fill="#222"/>
<text transform="translate(373.70,281.49) rotate(-90)" x="0" y="0" font-family="Liberation Sans" font-size="10.80" fill="#2a2a2a" textLength="21.17" lengthAdjust="spacing">8.89</text>
<line x1="388.20" y1="259.80" x2="388.20" y2="293.70" stroke="#989898" stroke-width="1.0" />
<polygon points="388.20,260.30 387.05,266.30 389.35,266.30" fill="#222"/>
<polygon points="388.20,293.20 387.05,287.20 389.35,287.20" fill="#222"/>
<text transform="translate(386.20,291.09) rotate(-90)" x="0" y="0" font-family="Liberation Sans" font-size="10.80" fill="#2a2a2a" textLength="27.87" lengthAdjust="spacing">12.95</text>
<line x1="401.30" y1="259.80" x2="401.30" y2="300.30" stroke="#989898" stroke-width="1.0" />
<polygon points="401.30,260.30 400.15,266.30 402.45,266.30" fill="#222"/>
<polygon points="401.30,299.80 400.15,293.80 402.45,293.80" fill="#222"/>
<text transform="translate(398.80,293.09) rotate(-90)" x="0" y="0" font-family="Liberation Sans" font-size="10.80" fill="#2a2a2a" textLength="26.97" lengthAdjust="spacing">15.49</text>
<line x1="412.60" y1="259.80" x2="412.60" y2="307.90" stroke="#989898" stroke-width="1.0" />
<polygon points="412.60,260.30 411.45,266.30 413.75,266.30" fill="#222"/>
<polygon points="412.60,307.40 411.45,301.40 413.75,301.40" fill="#222"/>
<text transform="translate(411.30,293.99) rotate(-90)" x="0" y="0" font-family="Liberation Sans" font-size="10.80" fill="#2a2a2a" textLength="26.97" lengthAdjust="spacing">18.51</text>
<line x1="326.90" y1="320.40" x2="366.90" y2="320.40" stroke="#989898" stroke-width="1.0" />
<polygon points="336.40,320.40 330.40,319.25 330.40,321.55" fill="#222"/>
<polygon points="338.90,320.40 344.90,319.25 344.90,321.55" fill="#222"/>
<text x="344.71" y="318.10" font-family="Liberation Sans" font-size="10.80" fill="#2a2a2a" textLength="21.67" lengthAdjust="spacing">0.68</text>
<text x="114.85" y="365.00" font-family="Liberation Sans" font-size="10.00" fill="#2a2a2a" textLength="220.50" lengthAdjust="spacingAndGlyphs">RECOMMENDED P.C.B LAYOUT TOP VIEW</text>
<text x="121.35" y="376.40" font-family="Liberation Sans" font-size="10.00" fill="#2a2a2a" textLength="207.30" lengthAdjust="spacingAndGlyphs">(COMPONENT SIDE TOLERANCE±0.05)</text>
</svg>
</body></html>
